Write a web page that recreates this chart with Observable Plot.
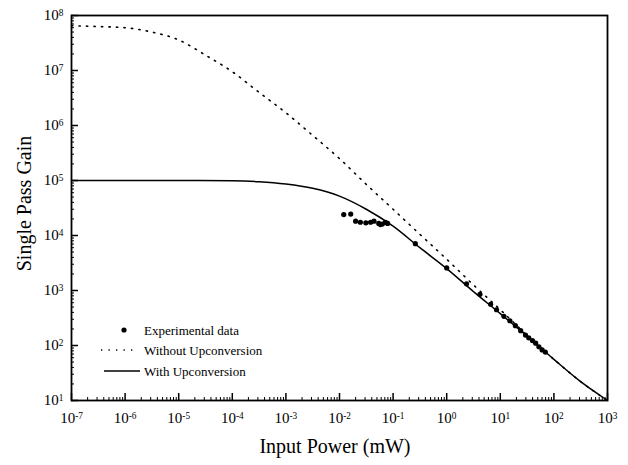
<!DOCTYPE html>
<html>
<head>
<meta charset="utf-8">
<script src="https://cdn.jsdelivr.net/npm/d3@7"></script>
<script src="https://cdn.jsdelivr.net/npm/@observablehq/plot@0.6"></script>
<style>
  html, body { margin: 0; padding: 0; background: white; }
  #chart { position: relative; width: 628px; height: 465px; }
</style>
</head>
<body>
<div id="chart"></div>
<script>
// ---- Data (Input power in mW, single pass gain) ----
const withPower = [1e-7, 1e-6, 1e-5, 1e-4, 3.16e-4, 1e-3, 3.16e-3, 1e-2, 3.16e-2, 0.1, 0.316, 1, 3.16, 10, 31.6, 100, 316, 1000];
const withGain  = [1e5, 1e5, 1e5, 9.9e4, 9.5e4, 8.6e4, 7.2e4, 5.2e4, 3.0e4, 1.48e4, 6.0e3, 2.5e3, 955, 380, 148, 56, 22, 10];

const withoutPower = [1e-7, 3.16e-7, 1e-6, 3.16e-6, 1e-5, 3.16e-5, 1e-4, 3.16e-4, 1e-3, 3.16e-3, 1e-2, 3.16e-2, 0.1, 0.316, 1, 3.16, 10, 20, 31.6, 100, 316, 1000];
const withoutGain  = [6.5e7, 6.3e7, 6.0e7, 5.0e7, 3.6e7, 1.9e7, 9.5e6, 4.0e6, 1.7e6, 6.6e5, 2.5e5, 8.5e4, 3.0e4, 1.05e4, 3.7e3, 1.26e3, 447, 234, 151, 56, 22, 10];

const expPower = [0.012, 0.0162, 0.020, 0.0245, 0.031, 0.038, 0.044, 0.054, 0.058, 0.063, 0.072, 0.079, 0.26, 1.0, 2.34, 4.17, 6.6, 8.5, 11.7, 15.1, 19.1, 24, 29.5, 33.9, 39.8, 45.7, 52.5, 60.3, 69.2];
const expGain  = [2.4e4, 2.45e4, 1.82e4, 1.74e4, 1.70e4, 1.74e4, 1.82e4, 1.66e4, 1.58e4, 1.62e4, 1.74e4, 1.66e4, 7.1e3, 2.57e3, 1.32e3, 851, 562, 447, 339, 282, 229, 186, 155, 138, 123, 110, 95, 83, 76];

const xDecades = [1e-7, 1e-6, 1e-5, 1e-4, 1e-3, 1e-2, 1e-1, 1e0, 1e1, 1e2, 1e3];
const yDecades = [1e1, 1e2, 1e3, 1e4, 1e5, 1e6, 1e7, 1e8];
const xTickLabels = ["10^-7","10^-6","10^-5","10^-4","10^-3","10^-2","10^-1","10^0","10^1","10^2","10^3"];
const yTickLabels = ["10^1","10^2","10^3","10^4","10^5","10^6","10^7","10^8"];
const legendLabels = ["Experimental data", "Without Upconversion", "With Upconversion"];
const xTitle = "Input Power (mW)";
const yTitle = "Single Pass Gain";

// ---- Build tables ----
const withData = withPower.map((p, i) => ({p, g: withGain[i]}));
const withoutData = withoutPower.map((p, i) => ({p, g: withoutGain[i]}));
const expData = expPower.map((p, i) => ({p, g: expGain[i]}));
const minor = decs => decs.slice(0, -1).flatMap(d => [2,3,4,5,6,7,8,9].map(k => d * k));
const xMinor = minor(xDecades);
const yMinor = minor(yDecades);

const W = 628, H = 465, mL = 71, mR = 21, mT = 15, mB = 65;
const pw = W - mL - mR, ph = H - mT - mB;
const xLab = new Map(xDecades.map((d, i) => [d, xTickLabels[i]]));
const yLab = new Map(yDecades.map((d, i) => [d, yTickLabels[i]]));
const dots = "1.3 6.2";

const svg = Plot.plot({
  width: W, height: H,
  marginLeft: mL, marginRight: mR, marginTop: mT, marginBottom: mB,
  style: {fontFamily: "'Liberation Serif', 'Times New Roman', serif", fontSize: "15px", color: "black", background: "white", overflow: "visible"},
  x: {type: "log", domain: [1e-7, 1e3]},
  y: {type: "log", domain: [10, 1e8]},
  marks: [
    Plot.tickX(xMinor, {insetTop: ph - 3, stroke: "black", strokeWidth: 1}),
    Plot.tickX(xDecades, {insetTop: ph - 7, stroke: "black", strokeWidth: 1.5}),
    Plot.tickY(yMinor, {insetRight: pw - 3, stroke: "black", strokeWidth: 1}),
    Plot.tickY(yDecades, {insetRight: pw - 7, stroke: "black", strokeWidth: 1.5}),
    Plot.axisX(xDecades, {tickSize: 0, tickPadding: 12, tickFormat: d => xLab.get(d), label: null}),
    Plot.axisY(yDecades, {tickSize: 0, tickPadding: 8, tickFormat: d => yLab.get(d), label: null}),
    Plot.line(withoutData, {x: "p", y: "g", stroke: "black", strokeWidth: 1.6, strokeDasharray: dots, curve: "monotone-x"}),
    Plot.line(withData, {x: "p", y: "g", stroke: "black", strokeWidth: 1.5, curve: "monotone-x"}),
    Plot.dot(expData, {x: "p", y: "g", r: 2.6, fill: "black", stroke: null}),
    Plot.frame({stroke: "black", strokeWidth: 1.8})
  ]
});

// superscript tick labels
d3.select(svg).selectAll("text").each(function() {
  const m = /^10\^(-?\d+)$/.exec(this.textContent);
  if (m) {
    this.textContent = "10";
    d3.select(this).append("tspan").attr("dy", "-0.5em").attr("font-size", "0.62em").text(m[1]);
  }
});

const s = d3.select(svg);
const serif = "'Liberation Serif', 'Times New Roman', serif";
// axis titles
s.append("text").attr("x", mL + pw / 2 - 4).attr("y", 453).attr("text-anchor", "middle")
  .attr("font-family", serif).attr("font-size", 20).attr("fill", "black").text(xTitle);
s.append("text").attr("transform", `translate(31,${mT + ph / 2 - 4}) rotate(-90)`).attr("text-anchor", "middle")
  .attr("font-family", serif).attr("font-size", 20).attr("fill", "black").text(yTitle);

// legend
const lg = s.append("g").attr("font-family", serif).attr("font-size", 13).attr("fill", "black").attr("text-anchor", "start");
lg.append("circle").attr("cx", 124).attr("cy", 330).attr("r", 2.6).attr("fill", "black");
lg.append("line").attr("x1", 101).attr("x2", 138).attr("y1", 350).attr("y2", 350)
  .attr("stroke", "black").attr("stroke-width", 1.6).attr("stroke-dasharray", dots);
lg.append("line").attr("x1", 104).attr("x2", 140).attr("y1", 371).attr("y2", 371)
  .attr("stroke", "black").attr("stroke-width", 1.5);
[330, 350, 371].forEach((y, i) => {
  lg.append("text").attr("x", 144).attr("y", y).attr("dy", "0.35em").attr("text-anchor", "start").text(legendLabels[i]);
});

document.getElementById("chart").appendChild(svg);
</script>
</body>
</html>
